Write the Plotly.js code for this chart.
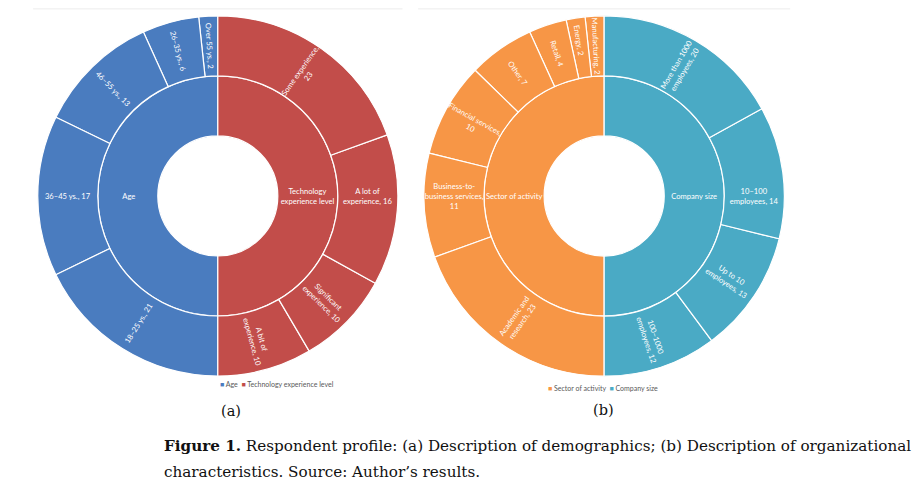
<!DOCTYPE html>
<html>
<head>
<meta charset="utf-8">
<script src="https://cdn.plot.ly/plotly-3.0.1.min.js"></script>
<style>
  html, body { margin: 0; padding: 0; background: #fff; }
  #chart { width: 921px; height: 493px; }
</style>
</head>
<body>
<div id="chart"></div>
<script>
// (a) demographics
var groupsA = ['Age', 'Technology experience level'];
var groupTextA = ['Age', 'Technology<br>experience level'];
var ageLabels = ['Over 55 ys.', '26–35 ys.', '46–55 ys.', '36–45 ys.', '18–25 ys.'];
var ageValues = [2, 6, 13, 17, 21];
var ageText = ['Over 55 ys., 2', '26–35 ys., 6', '46–55 ys., 13', '36–45 ys., 17', '18–25 ys., 21'];
var techLabels = ['A bit of experience', 'Significant experience', 'A lot of experience', 'Some experience'];
var techValues = [10, 10, 16, 23];
var techText = ['A bit of<br>experience, 10', 'Significant<br>experience, 10', 'A lot of<br>experience, 16', 'Some experience,<br>23'];

// (b) organizational characteristics
var groupsB = ['Sector of activity', 'Company size'];
var groupTextB = ['Sector of activity', 'Company size'];
var sectorLabels = ['Manufacturing', 'Energy', 'Retail', 'Other', 'Financial services', 'Business-to-business services', 'Academic and research'];
var sectorValues = [2, 2, 4, 7, 10, 11, 23];
var sectorText = ['Manufacturing, 2', 'Energy, 2', 'Retail, 4', 'Other, 7', 'Financial services,<br>10', 'Business-to-<br>business services,<br>11', 'Academic and<br>research, 23'];
var sizeLabels = ['100–1000 employees', 'Up to 10 employees', '10–100 employees', 'More than 1000 employees'];
var sizeValues = [12, 13, 14, 20];
var sizeText = ['100–1000<br>employees, 12', 'Up to 10<br>employees, 13', '10–100<br>employees, 14', 'More than 1000<br>employees, 20'];

var colA = ['#4a7cbf', '#c24d4a'];
var colB = ['#f79646', '#4aaac5'];

function sum(a) { return a.reduce(function (s, v) { return s + v; }, 0); }

function buildSunburst(groups, groupText, kids, colors, domainX) {
  // blank white root so the middle stays empty
  var total = 0;
  for (var k = 0; k < kids.length; k++) total += sum(kids[k].values);
  var ids = ['root'], labels = [''], parents = [''], values = [total], text = [''], cols = ['#ffffff'];
  for (var g = 0; g < groups.length; g++) {
    ids.push(groups[g]);
    labels.push(groups[g]);
    parents.push('root');
    values.push(sum(kids[g].values));
    text.push(groupText[g]);
    cols.push(colors[g]);
    for (var i = 0; i < kids[g].labels.length; i++) {
      ids.push(groups[g] + '/' + kids[g].labels[i]);
      labels.push(kids[g].labels[i]);
      parents.push(groups[g]);
      values.push(kids[g].values[i]);
      text.push(kids[g].text[i]);
      cols.push(colors[g]);
    }
  }
  return {
    type: 'sunburst',
    ids: ids,
    labels: labels,
    parents: parents,
    values: values,
    text: text,
    branchvalues: 'total',
    sort: false,
    rotation: 90,
    texttemplate: '%{text}',
    insidetextorientation: 'radial',
    textfont: { family: 'Lato, "Open Sans", sans-serif', size: 7.6, color: '#ffffff' },
    marker: { colors: cols, line: { color: '#ffffff', width: 1.2 } },
    leaf: { opacity: 1 },
    hoverinfo: 'label+value',
    domain: { x: domainX, y: [0.237, 0.968] }
  };
}

var traceA = buildSunburst(groupsA, groupTextA, [
  { labels: ageLabels, values: ageValues, text: ageText },
  { labels: techLabels, values: techValues, text: techText }
], colA, [0.041, 0.432]);

var traceB = buildSunburst(groupsB, groupTextB, [
  { labels: sectorLabels, values: sectorValues, text: sectorText },
  { labels: sizeLabels, values: sizeValues, text: sizeText }
], colB, [0.460, 0.852]);

var serif = '"DejaVu Serif", "Liberation Serif", serif';
var legendFont = { family: 'Lato, sans-serif', size: 7, color: '#595959' };

var layout = {
  width: 921,
  height: 493,
  margin: { l: 0, r: 0, t: 0, b: 0 },
  paper_bgcolor: '#ffffff',
  showlegend: false,
  uniformtext: { mode: 'show', minsize: 7.6 },
  shapes: [
    { type: 'line', xref: 'paper', yref: 'paper', x0: 0.036, x1: 0.437, y0: 0.982, y1: 0.982, line: { color: '#ececec', width: 1 } },
    { type: 'line', xref: 'paper', yref: 'paper', x0: 0.454, x1: 0.858, y0: 0.982, y1: 0.982, line: { color: '#ececec', width: 1 } }
  ],
  annotations: [
    { xref: 'paper', yref: 'paper', x: 0.237, y: 1 - 390 / 493, showarrow: false, font: legendFont,
      text: '<span style="color:' + colA[0] + '">■</span> ' + groupsA[0] + '  <span style="color:' + colA[1] + '">■</span> ' + groupsA[1] },
    { xref: 'paper', yref: 'paper', x: 0.655, y: 1 - 394 / 493, showarrow: false, font: legendFont,
      text: '<span style="color:' + colB[0] + '">■</span> ' + groupsB[0] + '  <span style="color:' + colB[1] + '">■</span> ' + groupsB[1] },
    { xref: 'paper', yref: 'paper', x: 0.238, y: 1 - 421 / 493, showarrow: false,
      font: { family: serif, size: 14.5, color: '#111' }, text: '(a)' },
    { xref: 'paper', yref: 'paper', x: 0.655, y: 1 - 420 / 493, showarrow: false,
      font: { family: serif, size: 14.5, color: '#111' }, text: '(b)' },
    { xref: 'paper', yref: 'paper', x: 162 / 921, y: 1 - 457 / 493, xanchor: 'left', showarrow: false,
      font: { family: serif, size: 15.2, color: '#111' },
      text: '<b>Figure 1.</b> Respondent profile: (a) Description of demographics; (b) Description of organizational' },
    { xref: 'paper', yref: 'paper', x: 162 / 921, y: 1 - 483 / 493, xanchor: 'left', showarrow: false,
      font: { family: serif, size: 15.2, color: '#111' },
      text: 'characteristics. Source: Author’s results.' }
  ]
};

Plotly.newPlot('chart', [traceA, traceB], layout, { displayModeBar: false, staticPlot: true });
</script>
</body>
</html>
